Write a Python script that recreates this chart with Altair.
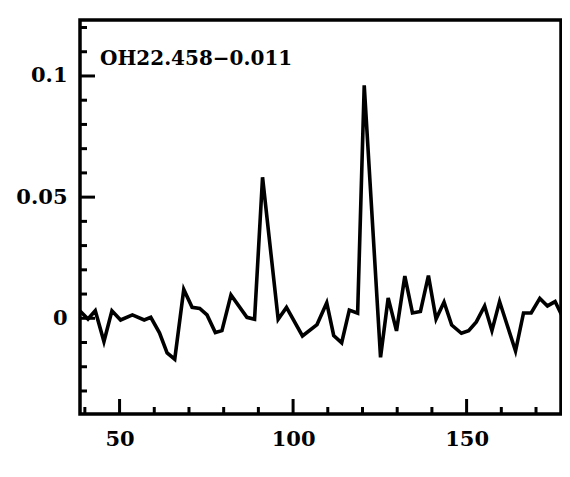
import altair as alt
import pandas as pd

# Spectrum values
velocity = [38.6, 40.9, 43.0, 45.5, 47.8, 50.3, 53.7, 57.1, 59.0, 61.5, 63.7, 65.9,
            68.5, 70.9, 73.1, 75.2, 77.6, 79.5, 82.1, 86.7, 88.9, 91.2, 95.7, 98.1,
            102.7, 106.9, 109.7, 111.7, 114.0, 116.2, 118.6, 120.5, 125.2, 127.4,
            129.8, 132.2, 134.4, 136.7, 139.0, 141.2, 143.5, 145.7, 148.5, 150.6,
            152.8, 155.2, 157.3, 159.5, 164.1, 166.4, 168.6, 171.1, 173.3, 175.5, 178.0]
flux = [0.0030, -0.0003, 0.0031, -0.0096, 0.0031, -0.0007, 0.0014, -0.0007, 0.0004,
        -0.0060, -0.0143, -0.0169, 0.0119, 0.0045, 0.0041, 0.0014, -0.0059, -0.0051,
        0.0096, 0.0004, -0.0004, 0.0582, -0.0004, 0.0045, -0.0073, -0.0026, 0.0064,
        -0.0071, -0.0101, 0.0034, 0.0021, 0.0961, -0.0161, 0.0084, -0.0052, 0.0174,
        0.0022, 0.0028, 0.0176, -0.0003, 0.0067, -0.0028, -0.0062, -0.0051, -0.0015,
        0.0051, -0.0051, 0.0069, -0.0135, 0.0022, 0.0022, 0.0082, 0.0051, 0.0069, -0.0004]

x_major = [50, 100, 150]
x_minor = [40, 60, 70, 80, 90, 110, 120, 130, 140, 160, 170]
y_major = [0, 0.05, 0.1]
y_minor = [-0.03, -0.02, -0.01, 0.01, 0.02, 0.03, 0.04, 0.06, 0.07, 0.08, 0.09, 0.11, 0.12]
x_labels = ["50", "100", "150"]
y_labels = ["0", "0.05", "0.1"]
source_name = "OH22.458\u22120.011"

X_DOMAIN = [38.6, 177.2]
Y_DOMAIN = [-0.0395, 0.1231]
FONT = "DejaVu Serif"
W, H = 481, 394

spec = pd.DataFrame({"v": velocity, "f": flux})
xs = alt.Scale(domain=X_DOMAIN, nice=False, zero=False)
ys = alt.Scale(domain=Y_DOMAIN, nice=False, zero=False)

label_expr_y = "datum.value == 0 ? '%s' : datum.value == 0.05 ? '%s' : '%s'" % tuple(y_labels)
label_expr_x = "datum.value == 50 ? '%s' : datum.value == 100 ? '%s' : '%s'" % tuple(x_labels)

line = alt.Chart(spec).mark_line(color="black", strokeWidth=3.6, clip=True).encode(
    x=alt.X("v:Q", scale=xs, title=None,
            axis=alt.Axis(values=x_major, ticks=False, domain=False, grid=False,
                          labelExpr=label_expr_x,
                          labelFont=FONT, labelFontWeight="bold", labelFontSize=21,
                          labelColor="black", labelPadding=14)),
    y=alt.Y("f:Q", scale=ys, title=None,
            axis=alt.Axis(values=y_major, ticks=False, domain=False, grid=False,
                          labelExpr=label_expr_y,
                          labelFont=FONT, labelFontWeight="bold", labelFontSize=21,
                          labelColor="black", labelPadding=13)),
)

xmaj = alt.Chart(pd.DataFrame({"t": x_major})).mark_rule(color="black", strokeWidth=3).encode(
    x=alt.X("t:Q", scale=xs), y=alt.value(H), y2=alt.value(H - 15))
xmin = alt.Chart(pd.DataFrame({"t": x_minor})).mark_rule(color="black", strokeWidth=3).encode(
    x=alt.X("t:Q", scale=xs), y=alt.value(H), y2=alt.value(H - 7))
ymaj = alt.Chart(pd.DataFrame({"t": y_major})).mark_rule(color="black", strokeWidth=3).encode(
    y=alt.Y("t:Q", scale=ys), x=alt.value(0), x2=alt.value(15))
ymin = alt.Chart(pd.DataFrame({"t": y_minor})).mark_rule(color="black", strokeWidth=3).encode(
    y=alt.Y("t:Q", scale=ys), x=alt.value(0), x2=alt.value(7))

label = alt.Chart(pd.DataFrame({"s": [source_name]})).mark_text(
    align="left", baseline="middle", font=FONT, fontWeight="bold", fontSize=20, color="black"
).encode(x=alt.value(20), y=alt.value(38.5), text="s:N")

chart = alt.layer(line, xmaj, xmin, ymaj, ymin, label).properties(
    width=W, height=H,
    background="white",
    autosize=alt.AutoSizeParams(type="none"),
    padding={"left": 72, "top": 12, "right": 1, "bottom": 50},
).configure_view(stroke="black", strokeWidth=3.5)

chart.save("out.html", embed_options={"renderer": "svg", "actions": False})
